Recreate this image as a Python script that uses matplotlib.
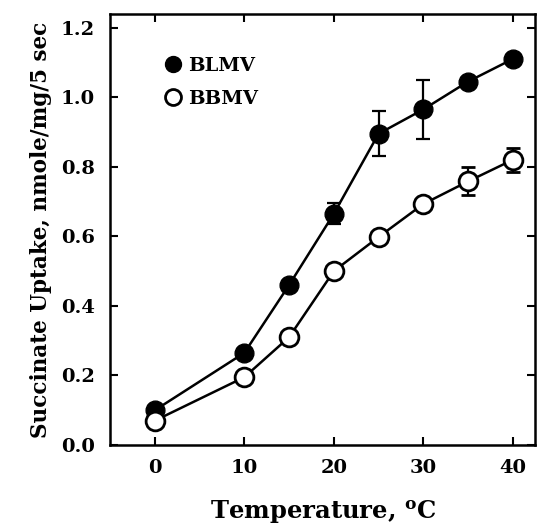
import numpy as np
import matplotlib
matplotlib.use("Agg")
import matplotlib.pyplot as plt

# Succinate uptake vs temperature
temp = [0, 10, 15, 20, 25, 30, 35, 40]
blmv = [0.10, 0.265, 0.46, 0.665, 0.895, 0.965, 1.045, 1.11]
blmv_err = [0, 0, 0, 0.03, 0.065, 0.085, 0, 0]
bbmv = [0.07, 0.195, 0.31, 0.50, 0.598, 0.693, 0.758, 0.82]
bbmv_err = [0, 0, 0, 0, 0, 0, 0.04, 0.035]

xticks = [0, 10, 20, 30, 40]
yticks = [0.0, 0.2, 0.4, 0.6, 0.8, 1.0, 1.2]

plt.rcParams['font.family'] = ['DejaVu Serif']
plt.rcParams['font.weight'] = 'bold'
plt.rcParams['mathtext.fontset'] = 'dejavuserif'

fig = plt.figure(figsize=(5.4, 5.31), dpi=100)
ax = fig.add_axes([0.204, 0.162, 0.787, 0.812])

ax.errorbar(temp, blmv, yerr=blmv_err, fmt='-o', color='black', mfc='black',
            mec='black', ms=13.5, lw=1.8, elinewidth=1.6, capsize=5, capthick=1.6,
            label='BLMV', zorder=3)
ax.errorbar(temp, bbmv, yerr=bbmv_err, fmt='-o', color='black', mfc='white',
            mec='black', mew=2, ms=13.5, lw=1.8, elinewidth=1.6, capsize=5,
            capthick=1.6, label='BBMV', zorder=3)

ax.set_xlim(-5, 42.5)
ax.set_ylim(0, 1.24)
ax.set_xticks(xticks)
ax.set_yticks(yticks)
ax.set_yticklabels(['%.1f' % v for v in yticks])
ax.tick_params(direction='in', length=6, width=1.5, top=True, right=True,
               labelsize=14)
ax.tick_params(axis='y', pad=11)
ax.tick_params(axis='x', pad=10)
for s in ax.spines.values():
    s.set_linewidth(1.8)

ax.set_xlabel(r'Temperature, $\mathbf{^{o}}$C', fontsize=17.5, fontweight='bold',
              labelpad=16)
ax.set_ylabel('Succinate Uptake, nmole/mg/5 sec', fontsize=15.5, fontweight='bold',
              labelpad=6)

handles, labels = ax.get_legend_handles_labels()
handles = [h[0] for h in handles]
ax.legend(handles, labels, loc='upper left', bbox_to_anchor=(0.09, 0.94),
          frameon=False, fontsize=14, handlelength=0.7, handletextpad=0.45,
          labelspacing=0.75, markerscale=0.85)

fig.savefig('out.png', dpi=100)
